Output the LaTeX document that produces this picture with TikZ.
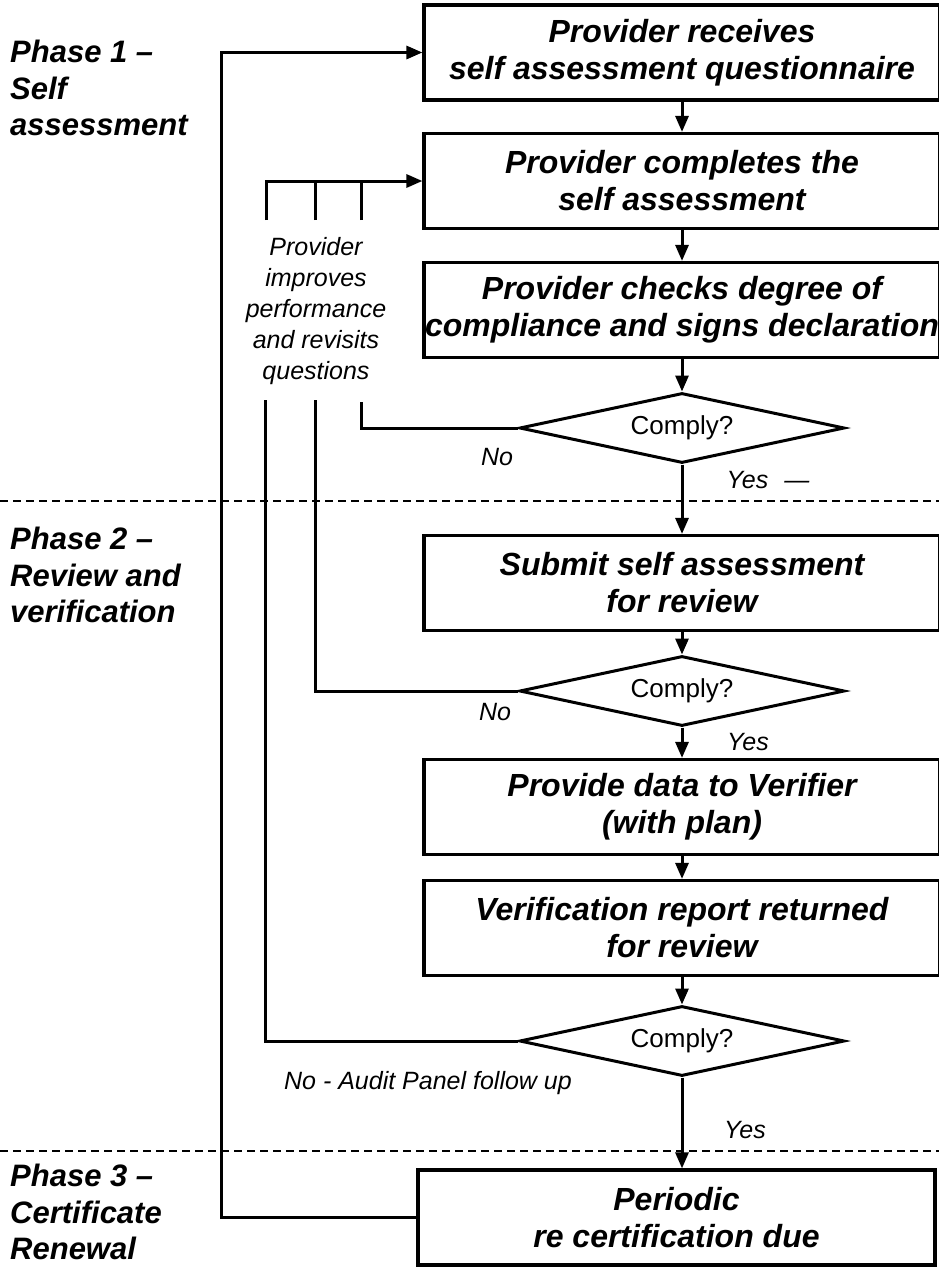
\documentclass[tikz,border=0pt]{standalone}
\usepackage{fontspec}
\setmainfont{Liberation Sans}
\usetikzlibrary{shapes.geometric,arrows.meta}
\begin{document}
\begin{tikzpicture}[x=1pt,y=-1pt,
  every node/.style={inner sep=0pt},
  proc/.style={draw, line width=3.2pt, minimum width=516pt, minimum height=95pt, align=center, font=\fontsize{32}{37}\selectfont\bfseries\itshape},
  dec/.style={draw, diamond, aspect=4.6, line width=3pt, minimum width=325pt, minimum height=70pt, font=\fontsize{26}{30}\selectfont},
  phase/.style={anchor=west, align=left, font=\fontsize{31}{36.5}\selectfont\bfseries\itshape},
  lbl/.style={font=\fontsize{25}{30}\selectfont\itshape},
  note/.style={align=center, font=\fontsize{25}{31}\selectfont\itshape},
  conn/.style={line width=3pt},
  arr/.style={conn, -{Triangle[length=16pt,width=13pt]}},
  sepline/.style={line width=2.6pt, dash pattern=on 8pt off 5pt},
]
\useasboundingbox (0,0) rectangle (939,1272);
\fill[white] (0,0) rectangle (939,1272);

% phase separators
\draw[sepline] (0,501) -- (939,501);
\draw[sepline] (0,1151) -- (939,1151);

% phase labels
\node[phase] (ph1) at (10,88) {Phase 1 –\\Self\\assessment};
\node[phase] (ph2) at (10,575) {Phase 2 –\\Review and\\verification};
\node[phase] (ph3) at (10,1212) {Phase 3 –\\Certificate\\Renewal};

% process boxes
\node[proc] (b1) at (682,52.5) {Provider receives\\self assessment questionnaire};
\node[proc] (b2) at (682,181) {Provider completes the\\self assessment};
\node[proc] (b3) at (682,310) {Provider checks degree of\\compliance and signs declaration};
\node[dec] (d1) at (682,428) {Comply?};
\node[proc] (sub) at (682,583) {Submit self assessment\\for review};
\node[dec] (d2) at (682,691) {Comply?};
\node[proc] (prov) at (682,807) {Provide data to Verifier\\(with plan)};
\node[proc] (ver) at (682,928) {Verification report returned\\for review};
\node[dec] (d3) at (682,1041) {Comply?};
\node[proc, minimum width=517pt] (per) at (676.5,1217.5) {Periodic\\re certification due};

% main flow
\draw[arr] (b1) -- (b2);
\draw[arr] (b2) -- (b3);
\draw[arr] (b3) -- (d1);
\draw[arr] (d1) -- (sub);
\draw[arr] (sub) -- (d2);
\draw[arr] (d2) -- (prov);
\draw[arr] (prov) -- (ver);
\draw[arr] (ver) -- (d3);
\draw[arr] (d3.south) -- (per.north -| d3.south);

% decision labels
\node[lbl] (no1) at (497,457) {No};
\node[lbl] (yes1) at (768,480) {Yes\hspace{16pt}—};
\node[lbl] (no2) at (495,712) {No};
\node[lbl] (yes2) at (748,742) {Yes};
\node[lbl] (no3) at (428,1083) {No - Audit Panel follow up};
\node[lbl] (yes3) at (745,1130) {Yes};

% feedback loop
\node[note] (fb) at (316,311) {Provider\\improves\\performance\\and revisits\\questions};
\coordinate (e1) at (361,402);
\coordinate (e2) at (315,400);
\coordinate (e3) at (265,400);
\coordinate (s1) at (266,220);
\coordinate (s2) at (315,220);
\coordinate (s3) at (361,220);
\draw[conn] (d1.west) -| (e1);
\draw[conn] (d2.west) -| (e2);
\draw[conn] (d3.west) -| (e3);
\draw[arr] (s1) |- (b2.west);
\draw[conn] (s2) -- (s2 |- b2.west);
\draw[conn] (s3) -- (s3 |- b2.west);

% renewal loop
\coordinate (lp) at (221,1217.5);
\draw[arr] (per.west) -- (lp) |- (b1.west);
\end{tikzpicture}
\end{document}
